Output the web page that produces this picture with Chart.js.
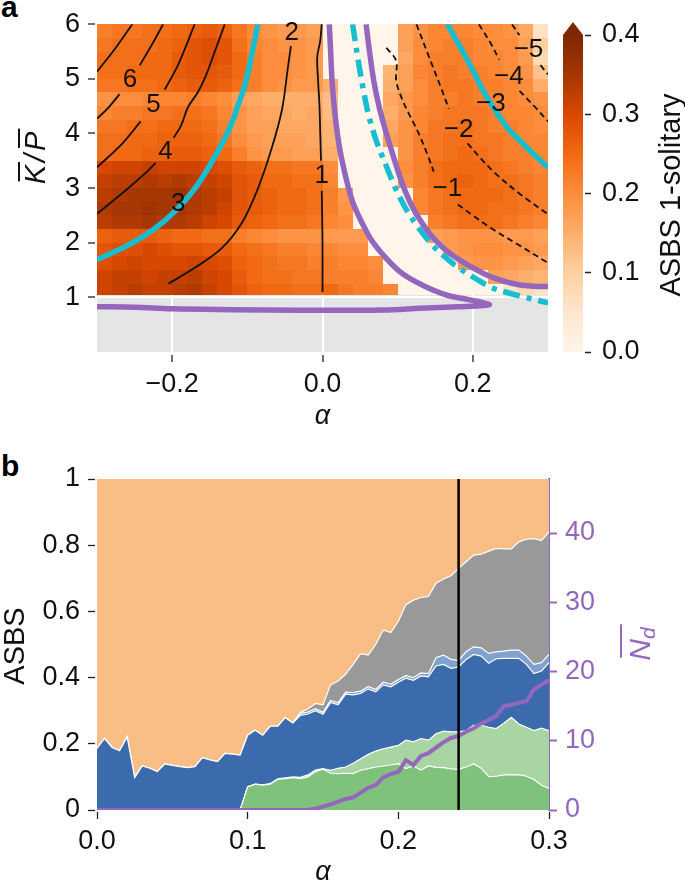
<!DOCTYPE html>
<html>
<head>
<meta charset="utf-8">
<title>ASBS heatmap and stacked areas</title>
<script src="https://cdn.jsdelivr.net/npm/chart.js@4.4.1/dist/chart.umd.min.js"></script>
<style>
  body { margin: 0; background: #fff; width: 685px; height: 881px; position: relative; overflow: hidden;
         font-family: 'Liberation Sans', Arial, Helvetica, sans-serif; }
  canvas { position: absolute; }
  #chartA { left: 0; top: 0; }
  #chartCb { left: 555px; top: 0; }
  #chartB { left: 0; top: 440px; }
  .panel { position: absolute; font-weight: bold; font-size: 30px; line-height: 1; }
</style>
</head>
<body>
<div class="panel" style="left:1px; top:-8px">a</div>
<div class="panel" style="left:1px; top:451px">b</div>
<canvas id="chartA" width="560" height="440"></canvas>
<canvas id="chartCb" width="130" height="440"></canvas>
<canvas id="chartB" width="685" height="441"></canvas>
<script>
// ---------- panel a : ASBS 1-solitary over (alpha, K/P) ----------
const alphaBins = [-0.3, -0.28, -0.26, -0.24, -0.22, -0.2, -0.18, -0.16, -0.14, -0.12, -0.1,
  -0.08, -0.06, -0.04, -0.02, 0, 0.02, 0.04, 0.06, 0.08, 0.1, 0.12, 0.14, 0.16, 0.18, 0.2,
  0.22, 0.24, 0.26, 0.28, 0.3];
const kpBins = [1.05, 1.25, 1.5, 1.75, 2, 2.25, 2.5, 2.75, 3, 3.25, 3.5, 3.75, 4, 4.25, 4.5,
  4.75, 5, 5.25, 5.5, 5.75, 6];

// one row per K/P bin, bottom row first; one value per alpha bin
const asbsGrid = [
  [0.31,0.32,0.33,0.32,0.32,0.33,0.34,0.32,0.30,0.28,0.26,0.25,0.25,0.24,0.24,0.25,0.23,0.22,0.22,0.21,0,0,0,0,0,0,0,0.05,0.08,0.06],
  [0.31,0.32,0.32,0.31,0.32,0.32,0.33,0.31,0.30,0.27,0.25,0.24,0.24,0.23,0.23,0.22,0.22,0.22,0.21,0,0,0,0,0,0,0,0.17,0.16,0.15,0.14],
  [0.29,0.30,0.31,0.30,0.30,0.30,0.31,0.30,0.29,0.26,0.25,0.24,0.23,0.23,0.22,0.22,0.21,0.21,0.20,0,0,0,0,0,0.18,0.19,0.19,0.18,0.17,0.16],
  [0.28,0.29,0.29,0.30,0.29,0.28,0.28,0.27,0.27,0.25,0.24,0.23,0.22,0.22,0.21,0.21,0.20,0.20,0,0,0,0,0,0.18,0.19,0.20,0.20,0.19,0.19,0.18],
  [0.26,0.27,0.27,0.27,0.26,0.25,0.25,0.24,0.24,0.22,0.21,0.20,0.19,0.19,0.19,0.18,0.18,0.18,0,0,0,0,0.17,0.18,0.19,0.19,0.19,0.18,0.18,0.17],
  [0.33,0.34,0.34,0.35,0.34,0.34,0.33,0.31,0.30,0.27,0.26,0.25,0.24,0.24,0.23,0.21,0.20,0,0,0,0,0,0.22,0.23,0.24,0.24,0.24,0.23,0.22,0.21],
  [0.34,0.35,0.35,0.36,0.35,0.35,0.34,0.33,0.31,0.28,0.27,0.26,0.25,0.25,0.24,0.22,0.19,0,0,0,0,0.21,0.23,0.24,0.25,0.25,0.24,0.24,0.23,0.22],
  [0.33,0.34,0.35,0.35,0.35,0.36,0.34,0.33,0.32,0.28,0.27,0.26,0.25,0.25,0.24,0.22,0.18,0,0,0,0,0.21,0.23,0.24,0.25,0.25,0.25,0.24,0.23,0.22],
  [0.32,0.33,0.33,0.34,0.33,0.34,0.33,0.32,0.31,0.28,0.27,0.25,0.25,0.24,0.24,0.21,0,0,0,0,0.19,0.22,0.24,0.25,0.26,0.25,0.24,0.24,0.23,0.22],
  [0.30,0.31,0.31,0.32,0.31,0.31,0.31,0.30,0.29,0.27,0.26,0.24,0.24,0.23,0.23,0.20,0,0,0,0,0.20,0.22,0.24,0.25,0.25,0.25,0.24,0.23,0.22,0.21],
  [0.24,0.25,0.25,0.26,0.26,0.27,0.27,0.26,0.25,0.22,0.19,0.18,0.18,0.17,0.17,0.15,0,0,0,0,0.19,0.22,0.23,0.24,0.25,0.24,0.23,0.22,0.22,0.21],
  [0.24,0.24,0.25,0.25,0.26,0.26,0.26,0.25,0.23,0.20,0.18,0.17,0.17,0.17,0.16,0.14,0,0,0,0.17,0.19,0.22,0.23,0.24,0.24,0.23,0.23,0.22,0.21,0.21],
  [0.23,0.23,0.24,0.24,0.25,0.25,0.25,0.24,0.22,0.19,0.17,0.17,0.16,0.16,0.16,0.14,0,0,0,0.16,0.19,0.21,0.23,0.23,0.24,0.23,0.22,0.22,0.21,0.20],
  [0.21,0.22,0.22,0.23,0.23,0.24,0.24,0.23,0.21,0.19,0.17,0.16,0.16,0.15,0.16,0.13,0,0,0,0.15,0.18,0.21,0.22,0.23,0.23,0.23,0.22,0.21,0.21,0.20],
  [0.19,0.20,0.20,0.21,0.21,0.21,0.22,0.21,0.20,0.17,0.16,0.15,0.15,0.15,0.15,0.13,0,0,0,0.16,0.18,0.20,0.22,0.22,0.23,0.22,0.21,0.21,0.20,0.19],
  [0.23,0.23,0.24,0.24,0.25,0.26,0.27,0.27,0.26,0.24,0.22,0.20,0.19,0.18,0.18,0.15,0,0,0,0.15,0.17,0.20,0.22,0.23,0.23,0.22,0.22,0.21,0.20,0.15],
  [0.24,0.24,0.25,0.25,0.25,0.27,0.28,0.28,0.27,0.25,0.22,0.20,0.20,0.19,0.18,0,0,0,0,0.14,0.17,0.21,0.22,0.23,0.22,0.22,0.21,0.20,0.19,0.12],
  [0.24,0.24,0.24,0.25,0.25,0.27,0.28,0.29,0.28,0.25,0.22,0.20,0.20,0.19,0.18,0,0,0,0,0,0.16,0.20,0.22,0.22,0.22,0.21,0.21,0.20,0.18,0.08],
  [0.23,0.24,0.24,0.24,0.25,0.26,0.28,0.29,0.28,0.24,0.21,0.20,0.19,0.19,0.18,0,0,0,0,0,0.17,0.20,0.21,0.22,0.22,0.21,0.20,0.20,0.17,0.10],
  [0.22,0.23,0.23,0.24,0.24,0.25,0.26,0.27,0.26,0.23,0.20,0.19,0.18,0.18,0.17,0,0,0,0,0,0.17,0.19,0.21,0.21,0.21,0.20,0.20,0.19,0.16,0.06]
];

// contour lines [alpha, K/P], split where the inline label sits
const contour7 = [[[-0.3, 5.13], [-0.275, 5.57], [-0.253, 6.0]]];
const contour6 = [[[-0.3, 4.27], [-0.285, 4.47], [-0.27, 4.72]], [[-0.243, 5.25], [-0.228, 5.6], [-0.212, 6.0]]];
const contour5 = [[[-0.3, 3.38], [-0.266, 3.82], [-0.242, 4.22]], [[-0.21, 4.8], [-0.192, 5.26], [-0.17, 6.0]]];
const contour4 = [[[-0.3, 2.53], [-0.266, 2.91], [-0.236, 3.27], [-0.222, 3.46]],
  [[-0.198, 3.92], [-0.188, 4.15], [-0.179, 4.48], [-0.166, 4.75], [-0.156, 5.03], [-0.143, 5.51], [-0.13, 6.0]]];
const contour2 = [[[-0.205, 1.25], [-0.17, 1.54], [-0.134, 1.9], [-0.107, 2.37], [-0.086, 2.99], [-0.068, 3.71],
  [-0.054, 4.43], [-0.046, 5.21], [-0.042, 5.6]]];
const contour1 = [[[0, 1.1], [0, 2.0], [-0.001, 2.95]],
  [[-0.002, 3.5], [-0.003, 4.0], [-0.004, 4.5], [-0.006, 5.0], [-0.007, 5.4], [-0.003, 5.7], [-0.001, 6.0]]];
const contourM1 = [[[0.085, 5.57], [0.098, 5.33], [0.098, 4.97], [0.105, 4.66], [0.115, 4.36], [0.128, 4.0], [0.14, 3.6], [0.148, 3.3]],
  [[0.18, 2.7], [0.2, 2.5], [0.225, 2.26], [0.261, 1.96], [0.3, 1.63]]];
const contourM2 = [[[0.125, 6.0], [0.142, 5.39], [0.159, 4.79], [0.168, 4.45]],
  [[0.193, 3.82], [0.21, 3.55], [0.23, 3.27], [0.261, 2.91], [0.3, 2.52]]];
const contourM4 = [[[0.208, 6.0], [0.225, 5.62], [0.235, 5.35]], [[0.262, 4.78], [0.283, 4.48], [0.3, 4.22]]];
const contourM5 = [[[0.252, 6.0], [0.262, 5.8]], [[0.29, 5.25], [0.3, 5.08]]];
const tealLeft = [[[-0.3, 1.69], [-0.258, 1.96], [-0.223, 2.26], [-0.193, 2.62], [-0.17, 2.99], [-0.155, 3.3],
  [-0.143, 3.58], [-0.131, 3.88], [-0.121, 4.18], [-0.112, 4.53], [-0.103, 4.9], [-0.094, 5.45], [-0.086, 6.0]]];
const tealRight = [[[0.166, 6.0], [0.191, 5.39], [0.205, 5.02], [0.217, 4.7], [0.232, 4.38], [0.248, 4.07],
  [0.262, 3.88], [0.274, 3.71], [0.3, 3.38]]];
const tealDashDot = [[[0.04, 6.0], [0.049, 5.21], [0.055, 4.75], [0.062, 4.3], [0.072, 3.85], [0.085, 3.4], [0.097, 3.0],
  [0.111, 2.62], [0.128, 2.27], [0.146, 1.96], [0.163, 1.74], [0.181, 1.54], [0.203, 1.35], [0.225, 1.18],
  [0.248, 1.08], [0.27, 1.0], [0.3, 0.9]]];
const purpleInner = [[[0.009, 6.0], [0.011, 5.45], [0.013, 4.9], [0.017, 4.3], [0.023, 3.71], [0.031, 3.2], [0.04, 2.75],
  [0.052, 2.38], [0.066, 2.03], [0.083, 1.74], [0.102, 1.48], [0.122, 1.3], [0.146, 1.14], [0.168, 1.03],
  [0.19, 0.97], [0.208, 0.92], [0.222, 0.87], [0.21, 0.845], [0.18, 0.83], [0.13, 0.8], [0.08, 0.77],
  [-0.03, 0.765], [-0.12, 0.775], [-0.2, 0.79], [-0.25, 0.82], [-0.3, 0.83]]];
const purpleOuter = [[[0.058, 6.0], [0.063, 5.45], [0.069, 4.9], [0.076, 4.45], [0.085, 4.0], [0.095, 3.55], [0.106, 3.09],
  [0.118, 2.7], [0.132, 2.37], [0.15, 2.05], [0.172, 1.78], [0.195, 1.58], [0.217, 1.42], [0.24, 1.3],
  [0.261, 1.23], [0.28, 1.205], [0.3, 1.2]]];

const contourLabels = [
  { text: '6', x: -0.256, y: 4.99 }, { text: '5', x: -0.225, y: 4.52 }, { text: '4', x: -0.209, y: 3.67 },
  { text: '3', x: -0.192, y: 2.71 }, { text: '2', x: -0.041, y: 5.84 }, { text: '1', x: -0.001, y: 3.22 },
  { text: '\u22121', x: 0.166, y: 2.99 }, { text: '\u22122', x: 0.181, y: 4.07 }, { text: '\u22123', x: 0.224, y: 4.54 },
  { text: '\u22124', x: 0.248, y: 5.03 }, { text: '\u22125', x: 0.274, y: 5.53 }
];

const xTicksA = [-0.2, 0, 0.2];
const xTickLabelsA = ['\u22120.2', '0.0', '0.2'];
const yTicksA = [1, 2, 3, 4, 5, 6];
const yTickLabelsA = ['1', '2', '3', '4', '5', '6'];
const cbTicks = [0, 0.1, 0.2, 0.3, 0.4];
const cbTickLabels = ['0.0', '0.1', '0.2', '0.3', '0.4'];

// ---------- panel b : ASBS shares and mean N_d vs alpha ----------
const alphaB = [0, 0.005, 0.01, 0.015, 0.02, 0.025, 0.03, 0.035, 0.04, 0.045,
  0.05, 0.055, 0.06, 0.065, 0.07, 0.075, 0.08, 0.085, 0.09, 0.095,
  0.1, 0.105, 0.11, 0.115, 0.12, 0.125, 0.13, 0.135, 0.14, 0.145,
  0.15, 0.155, 0.16, 0.165, 0.17, 0.175, 0.18, 0.185, 0.19, 0.195,
  0.2, 0.205, 0.21, 0.215, 0.22, 0.225, 0.23, 0.235, 0.24, 0.245,
  0.25, 0.255, 0.26, 0.265, 0.27, 0.275, 0.28, 0.285, 0.29, 0.295, 0.3];
// upper edge of each band (cumulative share)
const darkGreenTop = [0,0,0,0,0,0,0,0,0,0, 0,0,0,0,0,0,0,0,0,0,
  0.07,0.078,0.075,0.078,0.093,0.095,0.098,0.095,0.10,0.116,
  0.123,0.111,0.11,0.111,0.11,0.12,0.125,0.13,0.133,0.136,
  0.14,0.125,0.133,0.121,0.133,0.129,0.128,0.124,0.123,0.13,
  0.139,0.126,0.101,0.102,0.106,0.106,0.107,0.102,0.092,0.075,0.065];
const lightGreenTop = [0,0,0,0,0,0,0,0,0,0, 0,0,0,0,0,0,0,0,0,0,
  0.07,0.078,0.076,0.08,0.094,0.097,0.1,0.099,0.106,0.121,
  0.125,0.12,0.126,0.13,0.141,0.155,0.168,0.178,0.185,0.19,
  0.195,0.211,0.206,0.216,0.211,0.23,0.238,0.236,0.236,0.24,
  0.256,0.256,0.25,0.246,0.262,0.28,0.26,0.25,0.24,0.247,0.24];
const darkBlueTop = [0.186,0.216,0.189,0.179,0.221,0.098,0.133,0.126,0.116,0.139,
  0.135,0.131,0.128,0.131,0.158,0.151,0.146,0.171,0.169,0.166,
  0.226,0.241,0.226,0.253,0.253,0.279,0.263,0.286,0.29,0.30,
  0.289,0.325,0.318,0.35,0.348,0.352,0.366,0.357,0.378,0.372,
  0.386,0.398,0.392,0.405,0.402,0.435,0.44,0.428,0.432,0.455,
  0.47,0.465,0.443,0.457,0.458,0.458,0.458,0.44,0.412,0.42,0.445];
const lightBlueTop = [0.186,0.216,0.189,0.179,0.221,0.098,0.133,0.126,0.116,0.139,
  0.135,0.131,0.128,0.131,0.158,0.151,0.146,0.171,0.169,0.166,
  0.226,0.241,0.226,0.253,0.253,0.279,0.263,0.292,0.296,0.306,
  0.295,0.331,0.324,0.356,0.355,0.359,0.373,0.364,0.386,0.38,
  0.394,0.406,0.40,0.414,0.412,0.46,0.468,0.455,0.452,0.478,
  0.493,0.49,0.473,0.478,0.48,0.483,0.483,0.465,0.44,0.445,0.47];
const grayTop = [0.186,0.216,0.189,0.179,0.221,0.098,0.133,0.126,0.116,0.139,
  0.135,0.131,0.128,0.131,0.158,0.151,0.146,0.171,0.169,0.166,
  0.226,0.241,0.226,0.253,0.253,0.279,0.263,0.295,0.305,0.322,
  0.318,0.378,0.39,0.41,0.44,0.472,0.468,0.50,0.544,0.536,
  0.57,0.62,0.634,0.642,0.645,0.685,0.698,0.708,0.73,0.75,
  0.77,0.773,0.782,0.79,0.789,0.789,0.81,0.818,0.82,0.814,0.84];
const ndMean = [0,0,0,0,0,0,0,0,0,0, 0,0,0,0,0,0,0,0,0,0,
  0,0,0,0,0,0,0,0,0.05,0.2,
  0.5,0.8,1.2,1.6,1.8,2.5,3.2,3.6,4.7,5.2,
  5.5,7.2,6.5,7.8,8.2,9.0,9.8,10.4,10.7,11.3,
  11.8,12.5,13.0,13.6,15.0,15.2,15.5,15.7,17.4,18.1,18.8];
const alphaMarker = 0.24;

const xTicksB = [0, 0.1, 0.2, 0.3];
const xTickLabelsB = ['0.0', '0.1', '0.2', '0.3'];
const yTicksB = [0, 0.2, 0.4, 0.6, 0.8, 1];
const yTickLabelsB = ['0', '0.2', '0.4', '0.6', '0.8', '1'];
const ndTicks = [0, 10, 20, 30, 40];
const ndTickLabels = ['0', '10', '20', '30', '40'];

// ---------- styling ----------
const FONT = "'Liberation Sans', Arial, Helvetica, sans-serif";
const INK = '#111';
const PURPLE = '#9467bd';
const TEAL = '#17becf';
const ORANGES = ['#fff5eb', '#fee6ce', '#fdd0a2', '#fdae6b', '#fd8d3c', '#f16913', '#d94801', '#a63603', '#7f2704'];
const CB_MAX = 0.4;

Chart.defaults.font.family = FONT;
Chart.defaults.color = INK;

function hexRgb(h) { return [1, 3, 5].map(i => parseInt(h.substr(i, 2), 16)); }
function orangeColor(v) {
  const t = Math.max(0, Math.min(1, v / CB_MAX)) * 8;
  const i = Math.min(7, Math.floor(t));
  const f = t - i;
  const a = hexRgb(ORANGES[i]), b = hexRgb(ORANGES[i + 1]);
  return 'rgb(' + a.map((c, k) => Math.round(c + (b[k] - c) * f)).join(',') + ')';
}

function fixedTicks(values) {
  return axis => { axis.ticks = values.map(v => ({ value: v })); };
}

const plotBackground = {
  id: 'plotBackground',
  beforeDraw(chart) {
    const { ctx, chartArea: a } = chart;
    ctx.save();
    ctx.fillStyle = '#e5e5e5';
    ctx.fillRect(a.left, a.top, a.right - a.left, a.bottom - a.top);
    ctx.restore();
  }
};

const heatmap = {
  id: 'heatmap',
  beforeDatasetsDraw(chart) {
    const { ctx, scales: { x, y } } = chart;
    ctx.save();
    asbsGrid.forEach((row, j) => {
      const yb = Math.round(y.getPixelForValue(kpBins[j]));
      const yt = Math.round(y.getPixelForValue(kpBins[j + 1]));
      row.forEach((v, i) => {
        const xl = Math.round(x.getPixelForValue(alphaBins[i]));
        const xr = Math.round(x.getPixelForValue(alphaBins[i + 1]));
        ctx.fillStyle = orangeColor(v);
        ctx.fillRect(xl, yt, xr - xl, yb - yt);
      });
    });
    ctx.restore();
  }
};

const contourText = {
  id: 'contourText',
  afterDatasetsDraw(chart) {
    const { ctx, scales: { x, y } } = chart;
    ctx.save();
    ctx.fillStyle = INK;
    ctx.font = '26px ' + FONT;
    ctx.textAlign = 'center';
    ctx.textBaseline = 'middle';
    contourLabels.forEach(l => ctx.fillText(l.text, x.getPixelForValue(l.x), y.getPixelForValue(l.y)));
    ctx.restore();
  }
};

const titlesA = {
  id: 'titlesA',
  afterDraw(chart) {
    const { ctx, chartArea: a } = chart;
    ctx.save();
    ctx.fillStyle = INK;
    ctx.font = 'italic 27px ' + FONT;
    ctx.textAlign = 'center';
    ctx.fillText('\u03b1', (a.left + a.right) / 2, a.bottom + 72);
    // K/P with overlines, rotated
    ctx.translate(45, 158);
    ctx.rotate(-Math.PI / 2);
    ctx.font = 'italic 29px ' + FONT;
    ctx.textAlign = 'left';
    const parts = ['K', '/', 'P'];
    const gap = 3;
    const widths = parts.map(p => ctx.measureText(p).width);
    let px = -(widths.reduce((s, w) => s + w, 0) + gap * 2) / 2;
    parts.forEach((p, i) => {
      ctx.fillText(p, px, 0);
      if (p !== '/') ctx.fillRect(px + 3, -27, widths[i], 2);
      px += widths[i] + gap;
    });
    ctx.restore();
  }
};

function lineSets(segments, style) {
  return segments.map(seg => Object.assign({
    data: seg.map(p => ({ x: p[0], y: p[1] })),
    showLine: true, pointRadius: 0, fill: false, clip: 0, tension: 0.35
  }, style));
}

const blackSolid = { borderColor: INK, borderWidth: 1.8, order: 3 };
const blackDashed = { borderColor: INK, borderWidth: 1.8, borderDash: [6, 4], order: 3 };
const tealSolid = { borderColor: TEAL, borderWidth: 5.5, order: 2 };
const tealDash = { borderColor: TEAL, borderWidth: 5.5, borderDash: [17, 7, 5, 7], order: 2 };
const purpleLine = { borderColor: PURPLE, borderWidth: 5.5, order: 1 };

const datasetsA = [].concat(
  lineSets(contour7, blackSolid), lineSets(contour6, blackSolid), lineSets(contour5, blackSolid),
  lineSets(contour4, blackSolid), lineSets(contour2, blackSolid), lineSets(contour1, blackSolid),
  lineSets(contourM1, blackDashed), lineSets(contourM2, blackDashed), lineSets(contourM4, blackDashed),
  lineSets(contourM5, blackDashed),
  lineSets(tealLeft, tealSolid), lineSets(tealRight, tealSolid), lineSets(tealDashDot, tealDash),
  lineSets(purpleInner, purpleLine), lineSets(purpleOuter, purpleLine)
);

new Chart(document.getElementById('chartA'), {
  type: 'scatter',
  data: { datasets: datasetsA },
  options: {
    responsive: false, animation: false, devicePixelRatio: 1, events: [],
    layout: { padding: { top: 22, right: 12, left: 0, bottom: 0 } },
    plugins: { legend: { display: false }, tooltip: { enabled: false } },
    scales: {
      x: {
        type: 'linear', min: -0.3, max: 0.3,
        afterBuildTicks: fixedTicks(xTicksA),
        afterFit: axis => { axis.height = 88; },
        ticks: { callback: (v, i) => xTickLabelsA[i], font: { size: 27 }, color: INK, padding: 6, maxRotation: 0, autoSkip: false },
        grid: { color: '#fff', lineWidth: 2, tickColor: '#222', tickWidth: 1.3, tickLength: 10, tickBorderDash: [0, 3, 7, 20] },
        border: { display: false }
      },
      y: {
        min: 0, max: 6,
        afterBuildTicks: fixedTicks(yTicksA),
        afterFit: axis => { axis.width = 97; },
        ticks: { callback: (v, i) => yTickLabelsA[i], font: { size: 27 }, color: INK, padding: 8, autoSkip: false },
        grid: { color: '#fff', lineWidth: 2, tickColor: '#222', tickWidth: 1.3, tickLength: 9, tickBorderDash: [7, 20] },
        border: { display: false }
      }
    }
  },
  plugins: [plotBackground, heatmap, contourText, titlesA]
});

// colour bar
const colorbar = {
  id: 'colorbar',
  beforeDatasetsDraw(chart) {
    const { ctx, chartArea: a, scales: { y } } = chart;
    const y0 = y.getPixelForValue(0), y1 = y.getPixelForValue(CB_MAX);
    const grad = ctx.createLinearGradient(0, y0, 0, y1);
    ORANGES.forEach((c, i) => grad.addColorStop(i / (ORANGES.length - 1), c));
    ctx.save();
    ctx.fillStyle = grad;
    ctx.fillRect(a.left, y1, a.right - a.left, y0 - y1);
    ctx.fillStyle = ORANGES[ORANGES.length - 1];
    ctx.beginPath();
    ctx.moveTo(a.left, y1);
    ctx.lineTo(a.right, y1);
    ctx.lineTo((a.left + a.right) / 2, y1 - 13);
    ctx.closePath();
    ctx.fill();
    ctx.restore();
  },
  afterDraw(chart) {
    const { ctx } = chart;
    ctx.save();
    ctx.fillStyle = INK;
    ctx.font = '29px ' + FONT;
    ctx.textAlign = 'center';
    ctx.translate(125, 195);
    ctx.rotate(-Math.PI / 2);
    ctx.fillText('ASBS 1-solitary', 0, 0);
    ctx.restore();
  }
};

new Chart(document.getElementById('chartCb'), {
  type: 'scatter',
  data: { datasets: [] },
  options: {
    responsive: false, animation: false, devicePixelRatio: 1, events: [],
    layout: { padding: { top: 35, left: 8, right: 0, bottom: 88 } },
    plugins: { legend: { display: false }, tooltip: { enabled: false } },
    scales: {
      x: { display: false, min: 0, max: 1 },
      y: {
        position: 'right', min: 0, max: CB_MAX,
        afterBuildTicks: fixedTicks(cbTicks),
        afterFit: axis => { axis.width = 102; },
        ticks: { callback: (v, i) => cbTickLabels[i], font: { size: 27 }, color: INK, padding: 11 },
        grid: { drawOnChartArea: false, tickColor: '#222', tickWidth: 1.3, tickLength: 8, tickBorderDash: [0, 2, 6, 20] },
        border: { display: false }
      }
    }
  },
  plugins: [colorbar]
});

// ---------- panel b chart ----------
function series(values) { return alphaB.map((a, i) => ({ x: a, y: values[i] })); }

const bands = [
  { data: darkGreenTop, color: '#7fc27b', fill: 'origin' },
  { data: lightGreenTop, color: '#a9d5a2', fill: '-1' },
  { data: darkBlueTop, color: '#3b6aad', fill: '-1' },
  { data: lightBlueTop, color: '#7fa2ce', fill: '-1' },
  { data: grayTop, color: '#999999', fill: '-1' }
];
const datasetsB = bands.map(b => ({
  data: series(b.data), backgroundColor: b.color, fill: b.fill,
  borderColor: '#ffffff', borderWidth: 1.2, pointRadius: 0, tension: 0
}));
// the remaining share up to 1
datasetsB.push({ data: series(grayTop), backgroundColor: '#f9be86', fill: 'end', borderWidth: 0, pointRadius: 0 });
datasetsB.push({
  data: [{ x: alphaMarker, y: 0 }, { x: alphaMarker, y: 1 }],
  borderColor: '#000', borderWidth: 2.5, pointRadius: 0, fill: false, order: -2
});
datasetsB.push({
  data: series(ndMean), yAxisID: 'y2',
  borderColor: PURPLE, borderWidth: 4, pointRadius: 0, fill: false, tension: 0, order: -1
});

const titlesB = {
  id: 'titlesB',
  afterDraw(chart) {
    const { ctx, chartArea: a } = chart;
    ctx.save();
    ctx.fillStyle = INK;
    ctx.font = 'italic 27px ' + FONT;
    ctx.textAlign = 'center';
    ctx.fillText('\u03b1', (a.left + a.right) / 2, a.bottom + 70);
    ctx.save();
    ctx.translate(24, 206);
    ctx.rotate(-Math.PI / 2);
    ctx.font = '29px ' + FONT;
    ctx.fillText('ASBS', 0, 0);
    ctx.restore();
    // overlined N with subscript d
    ctx.translate(650, 204);
    ctx.rotate(-Math.PI / 2);
    ctx.fillStyle = PURPLE;
    ctx.textAlign = 'left';
    ctx.font = 'italic 30px ' + FONT;
    const wN = ctx.measureText('N').width;
    ctx.font = 'italic 21px ' + FONT;
    const wd = ctx.measureText('d').width;
    const start = -(wN + wd) / 2;
    ctx.font = 'italic 30px ' + FONT;
    ctx.fillText('N', start, 0);
    ctx.font = 'italic 21px ' + FONT;
    ctx.fillText('d', start + wN, 5);
    ctx.fillRect(start + 3, -30, wN + wd, 2);
    ctx.restore();
  }
};

new Chart(document.getElementById('chartB'), {
  type: 'line',
  data: { datasets: datasetsB },
  options: {
    responsive: false, animation: false, devicePixelRatio: 1, events: [],
    layout: { padding: { top: 39, left: 0, right: 0, bottom: 0 } },
    plugins: { legend: { display: false }, tooltip: { enabled: false } },
    scales: {
      x: {
        type: 'linear', min: 0, max: 0.3,
        afterBuildTicks: fixedTicks(xTicksB),
        afterFit: axis => { axis.height = 71; },
        ticks: { callback: (v, i) => xTickLabelsB[i], font: { size: 27 }, color: INK, padding: 6, maxRotation: 0, autoSkip: false },
        grid: { drawOnChartArea: false, tickColor: '#222', tickWidth: 1.3, tickLength: 9, tickBorderDash: [0, 2, 7, 20] },
        border: { display: false }
      },
      y: {
        min: 0, max: 1,
        afterBuildTicks: fixedTicks(yTicksB),
        afterFit: axis => { axis.width = 97; },
        ticks: { callback: (v, i) => yTickLabelsB[i], font: { size: 27 }, color: INK, padding: 8, autoSkip: false },
        grid: { drawOnChartArea: false, tickColor: '#222', tickWidth: 1.3, tickLength: 9, tickBorderDash: [7, 20] },
        border: { display: false }
      },
      y2: {
        position: 'right', min: 0, max: 47.8,
        afterBuildTicks: fixedTicks(ndTicks),
        afterFit: axis => { axis.width = 136; },
        ticks: { callback: (v, i) => ndTickLabels[i], font: { size: 27 }, color: PURPLE, padding: 8, autoSkip: false },
        grid: { drawOnChartArea: false, tickColor: PURPLE, tickWidth: 2, tickLength: 8 },
        border: { display: true, color: PURPLE, width: 2 }
      }
    }
  },
  plugins: [titlesB]
});
</script>
</body>
</html>
